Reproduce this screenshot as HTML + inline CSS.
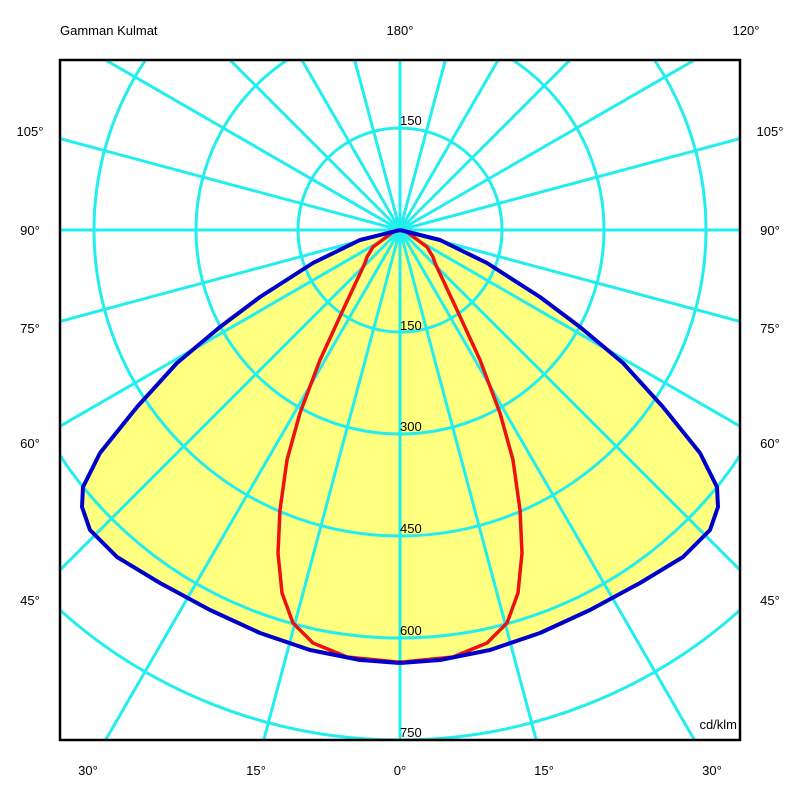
<!DOCTYPE html>
<html><head><style>
html,body{margin:0;padding:0;background:#fff;overflow:hidden;width:800px;height:800px;}
svg{display:block;overflow:hidden;}
svg text{font-family:"Liberation Sans",Arial,sans-serif;font-size:13px;fill:#000;}
</style></head><body>
<svg width="800" height="800" viewBox="0 0 800 800" xmlns="http://www.w3.org/2000/svg">
<defs><clipPath id="c"><rect x="60" y="60" width="680" height="680"/></clipPath></defs>
<rect width="800" height="800" fill="#fff"/>
<g clip-path="url(#c)">
<polygon fill="#ffff80" points="400,230 360,240 313,263 260,297 220,327 177,363 137,407 100,453 83,487 82,507 90,530 117,557 160,583 210,610 260,633 310,650 360,660 400,663 440,660 490,650 540,633 590,610 640,583 683,557 710,530 718,507 717,487 700,453 663,407 623,363 580,327 540,297 487,263 440,240"/>
<g stroke="#22eeee" stroke-width="3" fill="none">
<circle cx="400" cy="230" r="102"/><circle cx="400" cy="230" r="204"/><circle cx="400" cy="230" r="306"/><circle cx="400" cy="230" r="408"/><circle cx="400" cy="230" r="510"/>
<line x1="400" y1="230" x2="740" y2="230"/>
<line x1="400" y1="230" x2="999" y2="391"/>
<line x1="400" y1="230" x2="937" y2="540"/>
<line x1="400" y1="230" x2="838" y2="668"/>
<line x1="400" y1="230" x2="710" y2="767"/>
<line x1="400" y1="230" x2="560" y2="829"/>
<line x1="400" y1="230" x2="400" y2="740"/>
<line x1="400" y1="230" x2="240" y2="829"/>
<line x1="400" y1="230" x2="90" y2="767"/>
<line x1="400" y1="230" x2="-38" y2="668"/>
<line x1="400" y1="230" x2="-137" y2="540"/>
<line x1="400" y1="230" x2="-199" y2="391"/>
<line x1="400" y1="230" x2="60" y2="230"/>
<line x1="400" y1="230" x2="-199" y2="69"/>
<line x1="400" y1="230" x2="-137" y2="-80"/>
<line x1="400" y1="230" x2="-38" y2="-208"/>
<line x1="400" y1="230" x2="90" y2="-307"/>
<line x1="400" y1="230" x2="240" y2="-369"/>
<line x1="400" y1="230" x2="400" y2="60"/>
<line x1="400" y1="230" x2="560" y2="-369"/>
<line x1="400" y1="230" x2="710" y2="-307"/>
<line x1="400" y1="230" x2="838" y2="-208"/>
<line x1="400" y1="230" x2="937" y2="-80"/>
<line x1="400" y1="230" x2="999" y2="69"/>
</g>
<polyline fill="none" stroke="#ee1111" stroke-width="3.5" stroke-linejoin="round" points="400,230 407,232 427,247 433,257 435,263 457,310 480,360 500,413 513,460 520,510 522,553 518,593 507,623 487,643 453,657 403,662 397,662 347,657 313,643 293,623 282,593 278,553 280,510 287,460 300,413 320,360 343,310 365,263 367,257 373,247 393,232 400,230"/>
<polyline fill="none" stroke="#0000cc" stroke-width="4" stroke-linejoin="round" points="400,230 360,240 313,263 260,297 220,327 177,363 137,407 100,453 83,487 82,507 90,530 117,557 160,583 210,610 260,633 310,650 360,660 400,663 440,660 490,650 540,633 590,610 640,583 683,557 710,530 718,507 717,487 700,453 663,407 623,363 580,327 540,297 487,263 440,240 400,230"/>
</g>
<rect x="60" y="60" width="680" height="680" fill="none" stroke="#000" stroke-width="2.5"/>
<g>
<text x="60" y="35">Gamman Kulmat</text>
<text x="400" y="35" text-anchor="middle">180°</text>
<text x="746" y="35" text-anchor="middle">120°</text>
<text x="30" y="136" text-anchor="middle">105°</text>
<text x="30" y="235" text-anchor="middle">90°</text>
<text x="30" y="333" text-anchor="middle">75°</text>
<text x="30" y="448" text-anchor="middle">60°</text>
<text x="30" y="605" text-anchor="middle">45°</text>
<text x="770" y="136" text-anchor="middle">105°</text>
<text x="770" y="235" text-anchor="middle">90°</text>
<text x="770" y="333" text-anchor="middle">75°</text>
<text x="770" y="448" text-anchor="middle">60°</text>
<text x="770" y="605" text-anchor="middle">45°</text>
<text x="88" y="775" text-anchor="middle">30°</text>
<text x="256" y="775" text-anchor="middle">15°</text>
<text x="400" y="775" text-anchor="middle">0°</text>
<text x="544" y="775" text-anchor="middle">15°</text>
<text x="712" y="775" text-anchor="middle">30°</text>
<text x="400" y="125">150</text>
<text x="400" y="330">150</text>
<text x="400" y="431">300</text>
<text x="400" y="533">450</text>
<text x="400" y="635">600</text>
<text x="400" y="737">750</text>
<text x="737" y="729" text-anchor="end">cd/klm</text>
</g>
</svg>
</body></html>
